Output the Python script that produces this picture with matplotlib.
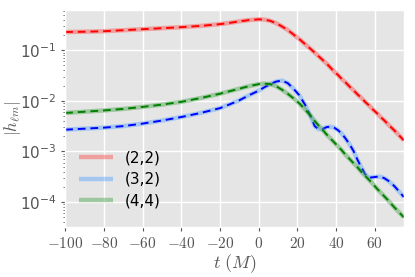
import numpy as np
import matplotlib
matplotlib.use("Agg")
import matplotlib.pyplot as plt

plt.style.use("ggplot")
plt.rcParams["mathtext.fontset"] = "cm"

t = [-100, -90, -80, -70, -60, -50, -40, -30, -20, -15, -10, -5, 0, 3, 6, 9, 12, 15, 18, 21,
     24, 27, 29, 31, 33, 35, 37, 39, 41, 43, 45, 47, 49, 51, 53, 55, 57, 59, 61, 63, 65, 67,
     70, 73, 75]

# log10 |h_lm|
log_h22 = [-0.64, -0.635, -0.625, -0.605, -0.585, -0.565, -0.545, -0.52, -0.485, -0.46, -0.43,
           -0.405, -0.39, -0.395, -0.42, -0.465, -0.53, -0.60, -0.69, -0.78, -0.88, -0.98,
           -1.05, -1.12, -1.19, -1.26, -1.34, -1.42, -1.49, -1.57, -1.64, -1.72, -1.79, -1.87,
           -1.94, -2.02, -2.09, -2.17, -2.24, -2.32, -2.39, -2.47, -2.58, -2.70, -2.78]
log_h32 = [-2.57, -2.55, -2.53, -2.50, -2.45, -2.39, -2.32, -2.24, -2.145, -2.07, -1.99,
           -1.89, -1.80, -1.73, -1.67, -1.62, -1.60, -1.65, -1.76, -1.89, -2.08, -2.32,
           -2.50, -2.56, -2.56, -2.52, -2.51, -2.53, -2.58, -2.65, -2.75, -2.86, -2.99, -3.16,
           -3.31, -3.45, -3.52, -3.51, -3.50, -3.50, -3.53, -3.58, -3.68, -3.81, -3.90]
log_h44 = [-2.24, -2.215, -2.19, -2.16, -2.12, -2.075, -2.02, -1.945, -1.86, -1.81, -1.76,
           -1.71, -1.67, -1.66, -1.67, -1.71, -1.78, -1.86, -1.95, -2.05, -2.17, -2.30,
           -2.40, -2.49, -2.57, -2.66, -2.74, -2.82, -2.90, -2.98, -3.07, -3.15, -3.23, -3.31,
           -3.40, -3.48, -3.56, -3.64, -3.73, -3.81, -3.89, -3.97, -4.10, -4.22, -4.30]

labels = ["(2,2)", "(3,2)", "(4,4)"]
faint_colors = ["#fb5b5b", "#65abfb", "#5bab5b"]
dash_colors = ["red", "blue", "green"]
series = [log_h22, log_h32, log_h44]

fig = plt.figure(figsize=(4.15, 2.77), dpi=100)
ax = fig.add_axes([0.157, 0.181, 0.816, 0.783])

for lab, fc, dc, s in zip(labels, faint_colors, dash_colors, series):
    y = 10 ** np.array(s)
    ax.plot(t, y, color=fc, lw=3.2, alpha=0.5, label=lab, solid_capstyle="butt")
    ax.plot(t, y, color=dc, lw=1.4, ls=(0, (4, 2.5)))

ax.set_yscale("log")
ax.set_xlim(-100, 75)
ax.set_ylim(10 ** -4.49, 10 ** -0.205)
ax.set_xticks([-100, -80, -60, -40, -20, 0, 20, 40, 60])
ax.set_xticklabels([r"$-100$", r"$-80$", r"$-60$", r"$-40$", r"$-20$", r"$0$", r"$20$",
                    r"$40$", r"$60$"])
ax.tick_params(axis="both", labelsize=11, colors="#555555", length=3)
ax.tick_params(axis="y", which="minor", length=1.5, colors="#555555")
ax.set_xlabel(r"$t\ (M)$", fontsize=13, color="#555555", labelpad=1)
ax.set_ylabel(r"$|h_{\ell m}|$", fontsize=12, color="#555555")
ax.yaxis.set_label_coords(-0.125, 0.5)
ax.grid(True, which="major", color="white", lw=1)
ax.grid(False, which="minor")

leg = ax.legend(loc="lower left", frameon=False, fontsize=11, handlelength=2.2,
                bbox_to_anchor=(0.0, 0.02), labelspacing=0.45)
for h in leg.get_lines():
    h.set_linewidth(3.2)
    h.set_alpha(0.5)

fig.savefig("out.png", dpi=100)
